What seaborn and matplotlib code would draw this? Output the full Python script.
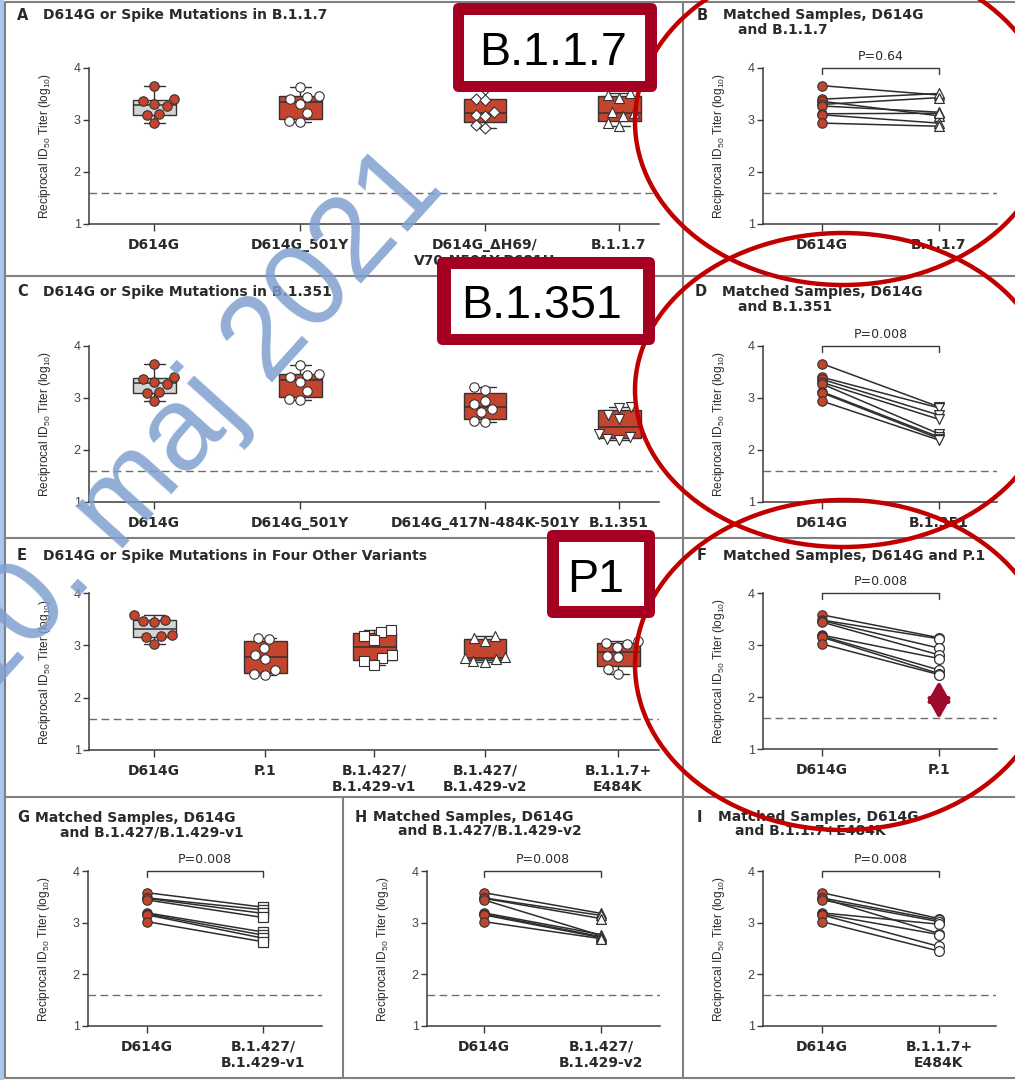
import numpy as np
import matplotlib
matplotlib.use("Agg")
import matplotlib.pyplot as plt
from matplotlib import font_manager
from matplotlib.patches import Ellipse, FancyBboxPatch, Rectangle
import seaborn as sns

# ---------------- data: reciprocal ID50 titers (log10), 8 sera each ----------------
d614g_ac = [3.66, 3.40, 3.36, 3.30, 3.27, 3.12, 3.10, 2.94]
d614g_501y = [3.63, 3.46, 3.45, 3.40, 3.30, 3.13, 2.98, 2.97]
d614g_h69_v70 = [3.60, 3.40, 3.38, 3.15, 3.10, 3.08, 2.91, 2.85]
b117 = [3.48, 3.51, 3.08, 3.43, 3.15, 3.13, 2.94, 2.88]
d614g_k417n = [3.21, 3.15, 2.94, 2.89, 2.78, 2.73, 2.55, 2.54]
b1351 = [2.83, 2.81, 2.67, 2.59, 2.31, 2.25, 2.22, 2.19]

d614g_e = [3.58, 3.48, 3.47, 3.44, 3.19, 3.17, 3.15, 3.02]
p1 = [3.14, 3.12, 2.94, 2.81, 2.74, 2.52, 2.45, 2.43]
b1427_v1 = [3.30, 3.25, 3.18, 3.10, 2.82, 2.76, 2.70, 2.63]
b1427_v2 = [3.18, 3.14, 3.08, 2.75, 2.77, 2.73, 2.71, 2.69]
b117_e484k = [3.08, 3.05, 2.79, 3.02, 2.97, 2.77, 2.54, 2.45]

detection_limit = 1.6

labels_a = ["D614G", "D614G_501Y", "D614G_\u0394H69/\nV70-N501Y-P681H", "B.1.1.7"]
labels_c = ["D614G", "D614G_501Y", "D614G_417N-484K-501Y", "B.1.351"]
labels_e = ["D614G", "P.1", "B.1.427/\nB.1.429-v1", "B.1.427/\nB.1.429-v2", "B.1.1.7+\nE484K"]

p_b, p_d, p_f, p_g, p_h, p_i = "P=0.64", "P=0.008", "P=0.008", "P=0.008", "P=0.008", "P=0.008"

# ---------------- style ----------------
sns.set_style("ticks")
plt.rcParams["font.family"] = ["DejaVu Sans"]
plt.rcParams["mathtext.fontset"] = "dejavusans"

try:
    font_manager.findfont("Liberation Sans Narrow", fallback_to_default=False)
    NARROW, YLAB_SIZE, YTICK_SIZE = "Liberation Sans Narrow", 10.3, 10
except Exception:
    NARROW, YLAB_SIZE, YTICK_SIZE = "Liberation Sans", 8.6, 9

RED = "#C4442D"
GRAY_BOX = "#D4D4D4"
EDGE = "#333333"
TXT = "#2a2a2a"
AXC = "#3a3a3a"
YLABEL = r"Reciprocal ID$_{\mathregular{50}}$ Titer (log$_{\mathregular{10}}$)"

W, H = 1015, 1080
S = 50.0  # pixels per x-unit on every panel
fig = plt.figure(figsize=(W / 100, H / 100), dpi=100)
fig.patch.set_facecolor("white")


def make_axes(x_left, x_right, y_top, y_bottom):
    ax = fig.add_axes([x_left / W, 1 - y_bottom / H,
                       (x_right - x_left) / W, (y_bottom - y_top) / H])
    ax.patch.set_alpha(0)
    return ax


def finish_axes(ax, x_left, x_right, positions, labels):
    ax.set_xlim(x_left / S, x_right / S)
    ax.set_ylim(1, 4)
    for s in ("top", "right"):
        ax.spines[s].set_visible(False)
    for s in ("left", "bottom"):
        ax.spines[s].set_color(AXC)
        ax.spines[s].set_linewidth(1.1)
    ax.set_yticks([1, 2, 3, 4])
    ax.set_yticklabels(["1", "2", "3", "4"], family=NARROW, fontsize=YTICK_SIZE, color="#444444")
    ax.tick_params(axis="y", length=4, width=1, color=AXC, pad=2)
    ax.set_xticks([p / S for p in positions])
    ax.set_xticklabels(labels, fontweight="bold", fontsize=10, color=TXT, linespacing=1.15)
    ax.tick_params(axis="x", length=5, width=1, color=AXC, pad=5)
    ax.axhline(detection_limit, ls=(0, (5.5, 3.2)), color="#6e6e6e", lw=1.0, zorder=0)
    ax.set_xlabel("")
    ax.set_ylabel(YLABEL, family=NARROW, fontsize=YLAB_SIZE, color=TXT)
    ax.yaxis.set_label_coords(-36 / (x_right - x_left), 0.5)


def box_stats(vals):
    v = np.sort(np.asarray(vals, dtype=float))
    q1, med, q3 = np.percentile(v, [25, 50, 75], method="weibull")
    return dict(med=med, q1=q1, q3=q3, whislo=v.min(), whishi=v.max(), fliers=[])


def box_panel(x_left, x_right, y_top, y_bottom, positions, series, labels, markers, sizes):
    ax = make_axes(x_left, x_right, y_top, y_bottom)
    ax.set_xlim(x_left / S, x_right / S)
    ax.set_ylim(1, 4)
    for i, (pos, vals, mk, sz) in enumerate(zip(positions, series, markers, sizes)):
        fill = GRAY_BOX if i == 0 else RED
        ax.bxp([box_stats(vals)], positions=[pos / S], widths=[43 / S], capwidths=[21 / S],
               patch_artist=True, showfliers=False, manage_ticks=False,
               boxprops=dict(facecolor=fill, edgecolor=EDGE, linewidth=1.0),
               medianprops=dict(color=EDGE, linewidth=1.1),
               whiskerprops=dict(color=EDGE, linewidth=1.0),
               capprops=dict(color=EDGE, linewidth=1.0))
        face = RED if i == 0 else "white"
        sns.swarmplot(x=[pos / S] * len(vals), y=vals, native_scale=True, orient="x",
                      marker=mk, color=face, edgecolor=EDGE, linewidth=0.8, size=sz,
                      ax=ax, legend=False, zorder=3, warn_thresh=1.0)
    finish_axes(ax, x_left, x_right, positions, labels)
    return ax


def matched_panel(x_left, x_right, y_top, y_bottom, positions, ref, variant, labels, marker, ptxt):
    ax = make_axes(x_left, x_right, y_top, y_bottom)
    xa, xb = positions[0] / S, positions[1] / S
    n = len(ref)
    xs = [xa] * n + [xb] * n
    ys = list(ref) + list(variant)
    pair = list(range(n)) * 2
    sns.lineplot(x=xs, y=ys, units=pair, estimator=None, color="#2d2d2d",
                 linewidth=1.1, ax=ax, legend=False)
    sns.scatterplot(x=[xa] * n, y=ref, marker="o", s=46, color=RED, edgecolor=EDGE,
                    linewidth=0.8, ax=ax, legend=False, zorder=3)
    sns.scatterplot(x=[xb] * n, y=variant, marker=marker, s=50, color="white",
                    edgecolor=EDGE, linewidth=0.9, ax=ax, legend=False, zorder=3)
    ax.plot([xa, xa, xb, xb], [3.89, 4.0, 4.0, 3.89], color=AXC, lw=1.0, clip_on=False)
    ax.annotate(ptxt, xy=((xa + xb) / 2, 4.0), xytext=(0, 3.5), textcoords="offset points",
                ha="center", va="bottom", fontsize=9, color=TXT, annotation_clip=False)
    finish_axes(ax, x_left, x_right, positions, labels)
    return ax


def title(letter, lx, lines, tx, ys):
    fig.text(lx / W, 1 - ys[0] / H, letter, ha="left", va="center",
             fontsize=10.5, fontweight="bold", color=TXT)
    for txt, x, y in zip(lines, tx, ys):
        fig.text(x / W, 1 - y / H, txt, ha="left", va="center",
                 fontsize=10, fontweight="bold", color=TXT)


# ---------------- box panels A, C, E ----------------
box_panel(89, 659, 68, 224, [154, 300, 485, 619],
          [d614g_ac, d614g_501y, d614g_h69_v70, b117], labels_a,
          ["o", "o", "D", "^"], [6.8, 6.8, 5.6, 7.2])
title("A", 17, ["D614G or Spike Mutations in B.1.1.7"], [43], [15])

box_panel(89, 659, 346, 502, [154, 300, 485, 619],
          [d614g_ac, d614g_501y, d614g_k417n, b1351], labels_c,
          ["o", "o", "o", "v"], [6.8, 6.8, 6.8, 7.2])
title("C", 17, ["D614G or Spike Mutations in B.1.351"], [43], [292])

box_panel(89, 659, 593, 750, [154, 265, 374, 485, 618],
          [d614g_e, p1, b1427_v1, b1427_v2, b117_e484k], labels_e,
          ["o", "o", "s", "^", "o"], [6.8, 6.8, 6.6, 7.2, 6.8])
title("E", 17, ["D614G or Spike Mutations in Four Other Variants"], [43], [556])

# ---------------- matched-sample panels ----------------
matched_panel(763, 997, 68, 224, [822, 939], d614g_ac, b117, ["D614G", "B.1.1.7"], "^", p_b)
title("B", 697, ["Matched Samples, D614G", "and B.1.1.7"], [723, 738], [15, 30])

matched_panel(763, 997, 346, 502, [822, 939], d614g_ac, b1351, ["D614G", "B.1.351"], "v", p_d)
title("D", 695, ["Matched Samples, D614G", "and B.1.351"], [722, 738], [292, 307])

matched_panel(763, 997, 593, 749, [822, 939], d614g_e, p1, ["D614G", "P.1"], "o", p_f)
title("F", 697, ["Matched Samples, D614G and P.1"], [723], [556])

matched_panel(88, 322, 871, 1026, [147, 263], d614g_e, b1427_v1,
              ["D614G", "B.1.427/\nB.1.429-v1"], "s", p_g)
title("G", 17, ["Matched Samples, D614G", "and B.1.427/B.1.429-v1"], [35, 60], [818, 832])

matched_panel(427, 660, 871, 1026, [484, 601], d614g_e, b1427_v2,
              ["D614G", "B.1.427/\nB.1.429-v2"], "^", p_h)
title("H", 355, ["Matched Samples, D614G", "and B.1.427/B.1.429-v2"], [373, 398], [817, 831])

matched_panel(763, 996, 871, 1026, [822, 939], d614g_e, b117_e484k,
              ["D614G", "B.1.1.7+\nE484K"], "o", p_i)
title("I", 697, ["Matched Samples, D614G", "and B.1.1.7+E484K"], [718, 735], [817, 831])

# ---------------- overlay: frames, highlights, watermark ----------------
ov = fig.add_axes([0, 0, 1, 1], zorder=20)
ov.set_xlim(0, W)
ov.set_ylim(H, 0)
ov.axis("off")

FRAME = "#808080"
ov.add_patch(Rectangle((0, 0), 4, H, facecolor="#A8C6EE", edgecolor="none", zorder=1))
for y in (2, 276, 538, 797, 1078):
    ov.plot([5, W], [y, y], color=FRAME, lw=1.5, zorder=1, solid_capstyle="butt")
ov.plot([5, 5], [2, 1078], color=FRAME, lw=1.5, zorder=1)
ov.plot([683, 683], [2, 1078], color=FRAME, lw=1.5, zorder=1)
ov.plot([343, 343], [797, 1078], color=FRAME, lw=1.5, zorder=1)

# watermark
ov.text(-16, 702, "10. maj 2021", rotation=48, rotation_mode="anchor", ha="left",
        va="baseline", fontsize=86, family="Liberation Sans", color="#7FA0CF",
        alpha=0.85, zorder=2)

# red ellipses around the matched-sample panels
for cy, h in ((122, 326), (390, 314), (665, 330)):
    ov.add_patch(Ellipse((843, cy), 416, h, fill=False, edgecolor="#C00000", lw=3.2, zorder=3))

# labelled callout boxes
MAROON = "#A50021"
for (x0, y0, x1, y1), (ix0, iy0, ix1, iy1), txt, tx, ty in (
        ((453, 3, 657, 92), (464, 15, 645, 81), "B.1.1.7", 553, 65),
        ((437, 257, 655, 345), (451, 269, 643, 334), "B.1.351", 542, 318),
        ((547, 530, 655, 618), (559, 542, 644, 606), "P1", 596, 592)):
    ov.add_patch(FancyBboxPatch((x0, y0), x1 - x0, y1 - y0,
                                boxstyle="round,pad=0,rounding_size=6",
                                facecolor=MAROON, edgecolor="none", zorder=4))
    ov.add_patch(Rectangle((ix0, iy0), ix1 - ix0, iy1 - iy0, facecolor="white",
                           edgecolor="none", zorder=5))
    ov.text(tx, ty, txt, ha="center", va="baseline", fontsize=33.6,
            family="Liberation Sans", color="black", zorder=6)

# double-headed arrow in panel F
ov.annotate("", xy=(939, 681), xytext=(939, 719),
            arrowprops=dict(arrowstyle="<|-|>,head_length=0.8,head_width=0.45",
                            color="#9E0A2B", lw=3, mutation_scale=15,
                            shrinkA=0, shrinkB=0), zorder=6)

fig.savefig("out.png", dpi=100)
